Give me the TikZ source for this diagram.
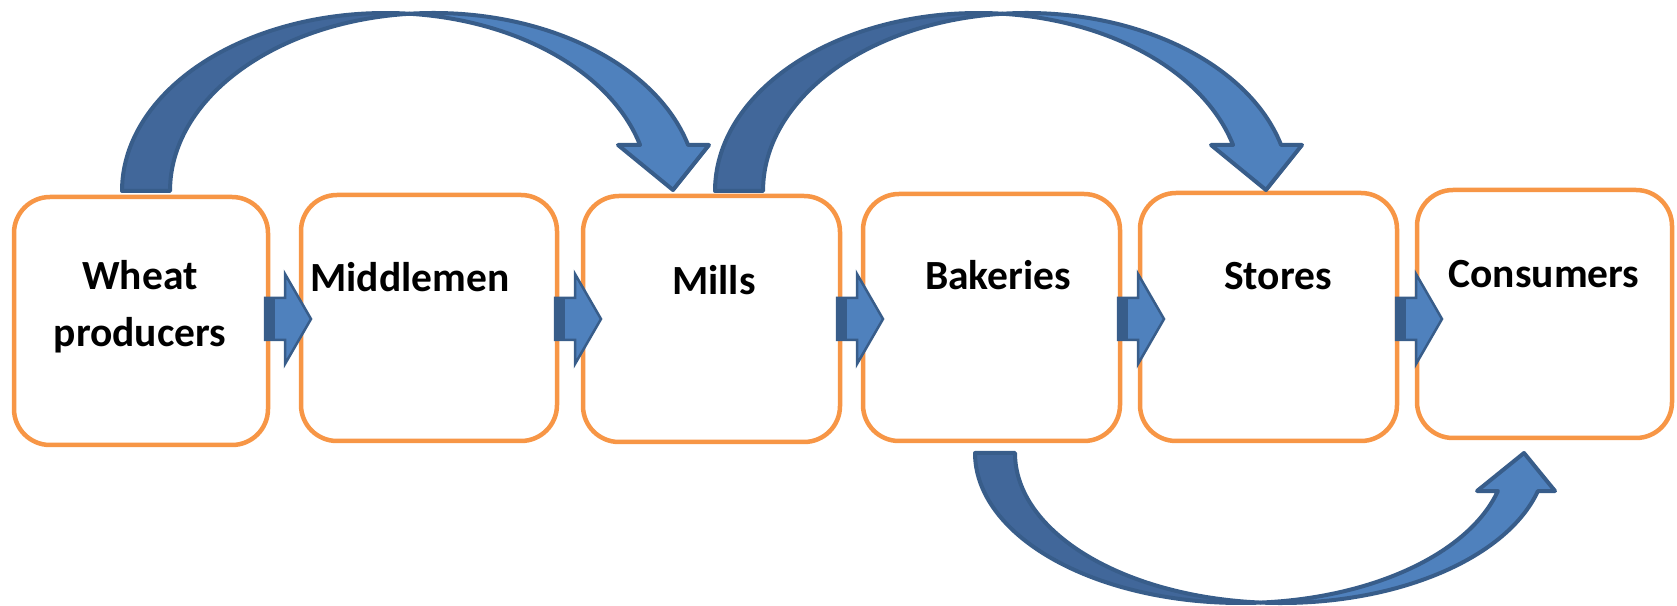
\documentclass[tikz,border=0pt]{standalone}
\usepackage{fontspec}
\setmainfont{Carlito}
\usetikzlibrary{calc}
\definecolor{boxorange}{HTML}{F79646}
\definecolor{arrlight}{HTML}{4F81BD}
\definecolor{arrdark}{HTML}{41679A}
\definecolor{arrline}{HTML}{385D8A}
\tikzset{
  stagebox/.style={draw=boxorange, line width=4.5pt, fill=white, rounded corners=36pt, outer sep=0pt, inner sep=0pt},
  stagelabel/.style={font=\fontsize{41.5}{57}\selectfont\bfseries, inner sep=0pt, anchor=base, align=center},
  bandline/.style={draw=arrline, line width=4pt, line join=round},
  smallarrow/.pic={
    \filldraw[fill=arrlight, draw=arrline, line width=2.5pt, line join=miter]
      (0,21) -- (20,21) -- (20,45) -- (46,0) -- (20,-45) -- (20,-21) -- (0,-21) -- cycle;
    \fill[arrline] (-1,-22) rectangle (10,22);
  },
  toparrow/.pic={
    % back (dark) band
    \filldraw[fill=arrdark, bandline]
      (122,414) arc[start angle=180, end angle=84.77, x radius=263.5, y radius=178]
      arc[start angle=95.23, end angle=180, x radius=263.5, y radius=178] -- cycle;
    % front (light) band with head
    \filldraw[fill=arrlight, bandline]
      (409.52,591.26) arc[start angle=95.23, end angle=14.98, x radius=263.5, y radius=178]
      -- (709,460) -- (673,415) -- (618,460) -- (640.05,460)
      arc[start angle=14.98, end angle=84.77, x radius=263.5, y radius=178] -- cycle;
  }
}
\begin{document}
\begin{tikzpicture}[x=1pt, y=1pt]
\useasboundingbox (0,0) rectangle (1677,605);

% stage boxes
\node[stagebox, minimum width=254pt, minimum height=248pt] (b1) at (141,284) {};
\node[stagebox, minimum width=256pt, minimum height=246pt] (b2) at (429,287) {};
\node[stagebox, minimum width=257pt, minimum height=246pt] (b3) at (711.5,286) {};
\node[stagebox, minimum width=257pt, minimum height=247pt] (b4) at (991.5,287.5) {};
\node[stagebox, minimum width=257pt, minimum height=248pt] (b5) at (1268.5,288) {};
\node[stagebox, minimum width=255pt, minimum height=248pt] (b6) at (1544.5,291) {};

% labels
\node[stagelabel] (t1) at (140,258) {Wheat\\producers};
\node[stagelabel] (t2) at (410,313) {Middlemen};
\node[stagelabel] (t3) at (714,310) {Mills};
\node[stagelabel] (t4) at (998,315) {Bakeries};
\node[stagelabel] (t5) at (1278,315) {Stores};
\node[stagelabel] (t6) at (1544,317) {Consumers};

% small block arrows between boxes
\pic at ($(b1.east |- 0,286)+(-3,0)$) {smallarrow};
\pic at ($(b2.east |- 0,286)+(-2,0)$) {smallarrow};
\pic at ($(b3.east |- 0,286)+(-3,0)$) {smallarrow};
\pic at ($(b4.east |- 0,286)+(-2,0)$) {smallarrow};
\pic at ($(b5.east |- 0,286)+(-1,0)$) {smallarrow};

% curved arrows on top
\pic at (0,0) {toparrow};
\pic at (593,0) {toparrow};

% curved arrow at the bottom (Bakeries -> Consumers)
\filldraw[fill=arrdark, bandline]
  (975,152) arc[start angle=180, end angle=274.315, x radius=265.8, y radius=150]
  arc[start angle=265.685, end angle=180, x radius=265.8, y radius=150] -- cycle;
\filldraw[fill=arrlight, bandline]
  (1260.8,2.42) arc[start angle=265.685, end angle=345.32, x radius=265.8, y radius=150]
  -- (1555,114) -- (1524,152) -- (1477,114) -- (1497.9,114)
  arc[start angle=345.32, end angle=274.315, x radius=265.8, y radius=150] -- cycle;
\end{tikzpicture}
\end{document}
